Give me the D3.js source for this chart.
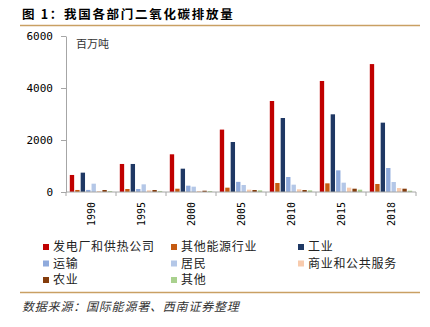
<!DOCTYPE html>
<html><head><meta charset="utf-8">
<script src="https://cdn.jsdelivr.net/npm/d3@7"></script>
<style>
body{margin:0;background:#fff;}
svg{display:block;}
</style></head>
<body>
<svg id="c" width="430" height="327"></svg>
<script>
const years = ["1990","1995","2000","2005","2010","2015","2018"];
const seriesNames = ["发电厂和供热公司","其他能源行业","工业","运输","居民","商业和公共服务","农业","其他"];
const seriesColors = ["#C00000","#C55A11","#1F3864","#8FAADC","#B4C7E7","#F8CBAD","#843C0C","#A9D18E"];
const power      = [655, 1078, 1450, 2400, 3500, 4270, 4920];
const otherEnergy= [78, 115, 127, 167, 346, 333, 308];
const industry   = [744, 1078, 897, 1923, 2846, 2988, 2667];
const transport  = [80, 115, 243, 390, 577, 833, 923];
const residential= [320, 295, 205, 270, 282, 359, 385];
const commercial = [38, 65, 40, 90, 103, 167, 154];
const agriculture= [77, 77, 50, 77, 77, 127, 127];
const others     = [38, 40, 38, 63, 63, 90, 50];
const yTicks = [0, 2000, 4000, 6000];

const seriesValues = [power, otherEnergy, industry, transport, residential, commercial, agriculture, others];

const svg = d3.select("#c");
const monoFont = "'DejaVu Sans Mono', monospace";
const cjk = "'Noto Sans CJK SC', sans-serif";

// Title
svg.append("text").attr("x", 22).attr("y", 19)
  .attr("font-family", cjk).attr("font-weight", "bold").attr("font-size", 12.5)
  .attr("letter-spacing", 1.7).attr("fill", "#000")
  .text("图 1：我国各部门二氧化碳排放量");
svg.append("line").attr("x1", 20).attr("x2", 420).attr("y1", 25.5).attr("y2", 25.5)
  .attr("stroke", "#C9A063").attr("stroke-width", 1.5);

const x0 = d3.scaleBand().domain(years).range([66, 416]);
const x1 = d3.scaleBand().domain(seriesNames).range([0, x0.bandwidth()]).paddingInner(0.2).paddingOuter(0.7);
const y = d3.scaleLinear().domain([0, 6000]).range([192, 36]);

// bars
const groups = svg.append("g").selectAll("g").data(years).join("g")
  .attr("transform", d => `translate(${x0(d)},0)`);
groups.selectAll("rect").data((d, i) => seriesNames.map((s, j) => ({s, j, v: seriesValues[j][i]})))
  .join("rect")
  .attr("x", d => x1(d.s)).attr("width", x1.bandwidth())
  .attr("y", d => y(d.v)).attr("height", d => y(0) - y(d.v))
  .attr("fill", d => seriesColors[d.j]);

// y axis
const ya = svg.append("g").attr("transform", "translate(66,0)")
  .call(d3.axisLeft(y).tickValues(yTicks).tickSize(5).tickSizeOuter(0).tickPadding(8).tickFormat(d3.format("d")));
ya.selectAll("text").attr("font-family", monoFont).attr("font-size", 11).attr("fill", "#000");
ya.selectAll("line,path").attr("stroke", "#A6A6A6");

// x axis
const xa = svg.append("g").attr("transform", "translate(0,192)");
xa.append("line").attr("x1", 66).attr("x2", 416).attr("stroke", "#A6A6A6");
xa.selectAll("line.t").data(years.concat(["end"])).join("line").attr("class", "t")
  .attr("x1", (d, i) => i < years.length ? x0(d) : x0.range()[1])
  .attr("x2", (d, i) => i < years.length ? x0(d) : x0.range()[1])
  .attr("y1", 0).attr("y2", 4).attr("stroke", "#A6A6A6");
xa.selectAll("text").data(years).join("text")
  .attr("transform", d => `translate(${x0(d) + x0.bandwidth() / 2},10) rotate(-90)`)
  .attr("text-anchor", "end").attr("dy", "0.35em")
  .attr("font-family", monoFont).attr("font-size", 10).attr("fill", "#000")
  .text(d => d);

// unit
svg.append("text").attr("x", 76).attr("y", 48)
  .attr("font-family", cjk).attr("font-size", 11).attr("fill", "#333").text("百万吨");

// legend
const cols = [43, 171, 298];
const rows = [247, 263.5, 280];
const lg = svg.append("g").selectAll("g").data(seriesNames).join("g")
  .attr("transform", (d, i) => `translate(${cols[i % 3]},${rows[Math.floor(i / 3)]})`);
lg.append("rect").attr("x", 0).attr("y", -3).attr("width", 6).attr("height", 6)
  .attr("fill", (d, i) => seriesColors[i]);
lg.append("text").attr("x", 10).attr("dy", "0.36em")
  .attr("font-family", cjk).attr("font-size", 12).attr("letter-spacing", 0.7).attr("fill", "#222")
  .text(d => d);

// bottom line & source
svg.append("line").attr("x1", 20).attr("x2", 420).attr("y1", 292.5).attr("y2", 292.5)
  .attr("stroke", "#C9A063").attr("stroke-width", 1.5);
svg.append("text").attr("x", 22).attr("y", 311)
  .attr("font-family", cjk).attr("font-style", "italic").attr("font-size", 12).attr("letter-spacing", 0.8)
  .attr("fill", "#333").text("数据来源：国际能源署、西南证券整理");
</script>
</body></html>
